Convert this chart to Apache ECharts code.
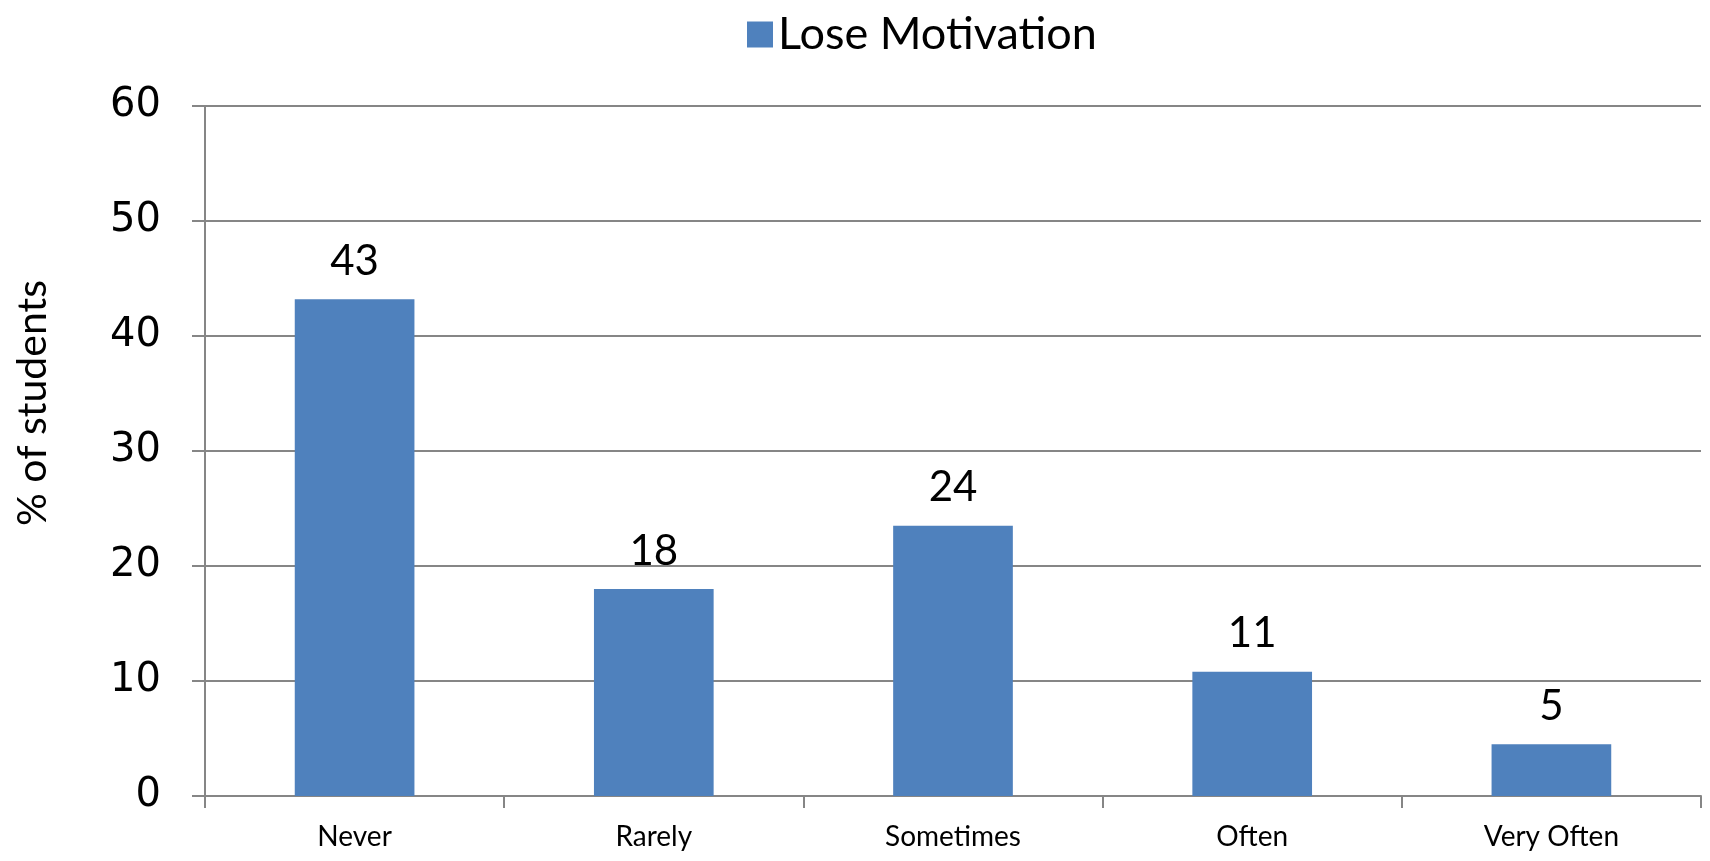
<!DOCTYPE html>
<html><head><meta charset="utf-8">
<script src="https://cdn.jsdelivr.net/npm/echarts@6/dist/echarts.min.js"></script>
<style>html,body{margin:0;padding:0;background:#fff}#c{width:1710px;height:861px}</style>
</head><body><div id="c"></div>
<script>
const categories = ["Never", "Rarely", "Sometimes", "Often", "Very Often"];
const values = [43.2, 18.0, 23.5, 10.8, 4.5];
const seriesName = "Lose Motivation";
const yAxisName = "% of students";
const yMin = 0, yMax = 60, yStep = 10;

const chart = echarts.init(document.getElementById('c'));
chart.setOption({
  animation: false,
  backgroundColor: '#fff',
  legend: {
    data: [seriesName], left: 742, top: 7, itemWidth: 26, itemHeight: 26, itemGap: 10,
    icon: 'rect',
    textStyle: { fontFamily: 'Lato', fontSize: 45, color: '#000' }
  },
  grid: { left: 205, right: 9, top: 106, bottom: 65 },
  graphic: [{
    type: 'text', rotation: Math.PI / 2,
    x: 12, y: 403,
    style: { text: yAxisName, font: '41px Lato', fill: '#000', textAlign: 'center', textVerticalAlign: 'top' }
  }],
  xAxis: {
    type: 'category', data: categories,
    axisLine: { lineStyle: { color: '#868686', width: 2 } },
    axisTick: { show: true, length: 12, lineStyle: { color: '#868686', width: 2 } },
    axisLabel: { fontFamily: 'Lato', fontSize: 28, color: '#000', margin: 27 }
  },
  yAxis: {
    type: 'value', min: yMin, max: yMax, interval: yStep,
    axisLine: { show: true, lineStyle: { color: '#868686', width: 2 } },
    axisTick: { show: true, length: 13, lineStyle: { color: '#868686', width: 2 } },
    splitLine: { lineStyle: { color: '#868686', width: 2 } },
    axisLabel: { fontFamily: 'DejaVu Sans', fontSize: 40, color: '#000', margin: 44 }
  },
  series: [{
    name: seriesName, type: 'bar', data: values, barWidth: '40%',
    itemStyle: { color: '#4F81BD' },
    label: { show: true, position: 'top', distance: 17, fontFamily: 'Lato', fontSize: 42, color: '#000',
      formatter: p => Math.round(p.value) }
  }]
});
</script></body></html>
